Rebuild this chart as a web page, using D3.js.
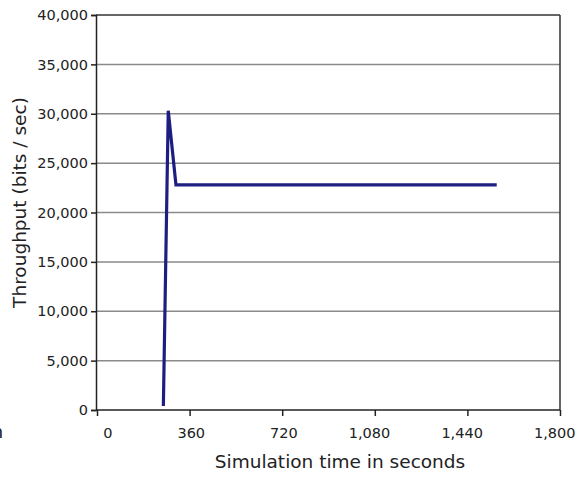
<!DOCTYPE html>
<html>
<head>
<meta charset="utf-8">
<script src="https://cdn.jsdelivr.net/npm/d3@7"></script>
<style>
  html, body { margin: 0; padding: 0; background: #fff; }
  svg { display: block; font-family: "DejaVu Sans", sans-serif; }
</style>
</head>
<body>
<svg id="chart" width="584" height="479"></svg>
<script>
// Throughput samples over simulation time
const timeSec = [258, 277, 307, 1554];
const throughput = [400, 30300, 22800, 22800];
const xTicks = [0, 360, 720, 1080, 1440, 1800];
const yTicks = [0, 5000, 10000, 15000, 20000, 25000, 30000, 35000, 40000];
const xTitle = "Simulation time in seconds";
const yTitle = "Throughput (bits / sec)";

const svg = d3.select("#chart");
const plot = { left: 96, right: 560, top: 15, bottom: 410 };

const x = d3.scaleLinear().domain([0, 1800]).range([97, plot.right]);
const y = d3.scaleLinear().domain([0, 40000]).range([plot.bottom, plot.top]);
const fmt = d3.format(",");

// horizontal grid
svg.append("g")
  .selectAll("line")
  .data(yTicks.filter(d => d > 0))
  .join("line")
  .attr("x1", plot.left).attr("x2", plot.right)
  .attr("y1", d => y(d)).attr("y2", d => y(d))
  .attr("stroke", d => d === 40000 ? "#333" : "#8a8a8a")
  .attr("stroke-width", 1.5);

// right frame edge
svg.append("line")
  .attr("x1", plot.right).attr("x2", plot.right)
  .attr("y1", plot.top).attr("y2", plot.bottom)
  .attr("stroke", "#333").attr("stroke-width", 1.5);

// y axis
const yAxis = svg.append("g")
  .attr("transform", `translate(${plot.left},0)`)
  .call(d3.axisLeft(y).tickValues(yTicks).tickFormat(fmt).tickSize(5).tickPadding(3));
yAxis.select(".domain").attr("stroke", "#222").attr("stroke-width", 1.5);
yAxis.selectAll(".tick line").attr("stroke", "#222").attr("stroke-width", 1.5);
yAxis.selectAll("text").attr("font-size", 14.5).attr("fill", "#222")
  .attr("font-family", "DejaVu Sans, sans-serif");

// x axis
const xAxis = svg.append("g")
  .attr("transform", `translate(0,${plot.bottom})`)
  .call(d3.axisBottom(x).tickValues(xTicks).tickFormat(fmt).tickSize(6).tickPadding(12));
xAxis.select(".domain").attr("stroke", "#222").attr("stroke-width", 1.5)
  .attr("d", `M${plot.left},0H${plot.right}`);
xAxis.selectAll(".tick line").attr("stroke", "#222").attr("stroke-width", 1.5);
xAxis.selectAll("text").attr("font-size", 14.5).attr("fill", "#222")
  .attr("font-family", "DejaVu Sans, sans-serif")
  .attr("text-anchor", "end").attr("dx", 15);

// throughput line
const line = d3.line()
  .x((d, i) => x(timeSec[i]))
  .y(d => y(d));
svg.append("path")
  .datum(throughput)
  .attr("d", line)
  .attr("fill", "none")
  .attr("stroke", "#1e1e82")
  .attr("stroke-width", 3.2)
  .attr("stroke-linejoin", "miter");

// axis titles
svg.append("text")
  .attr("x", (plot.left + plot.right) / 2 + 12)
  .attr("y", 468)
  .attr("text-anchor", "middle")
  .attr("font-size", 18.5).attr("fill", "#222")
  .text(xTitle);

svg.append("text")
  .attr("transform", `translate(26,${(95 + 310) / 2}) rotate(-90)`)
  .attr("text-anchor", "middle")
  .attr("font-size", 18.5).attr("fill", "#222")
  .text(yTitle);

// partial glyph at the left edge
svg.append("text")
  .attr("x", -8.5).attr("y", 438)
  .attr("font-size", 18.5).attr("fill", "#222")
  .text("n");
</script>
</body>
</html>
